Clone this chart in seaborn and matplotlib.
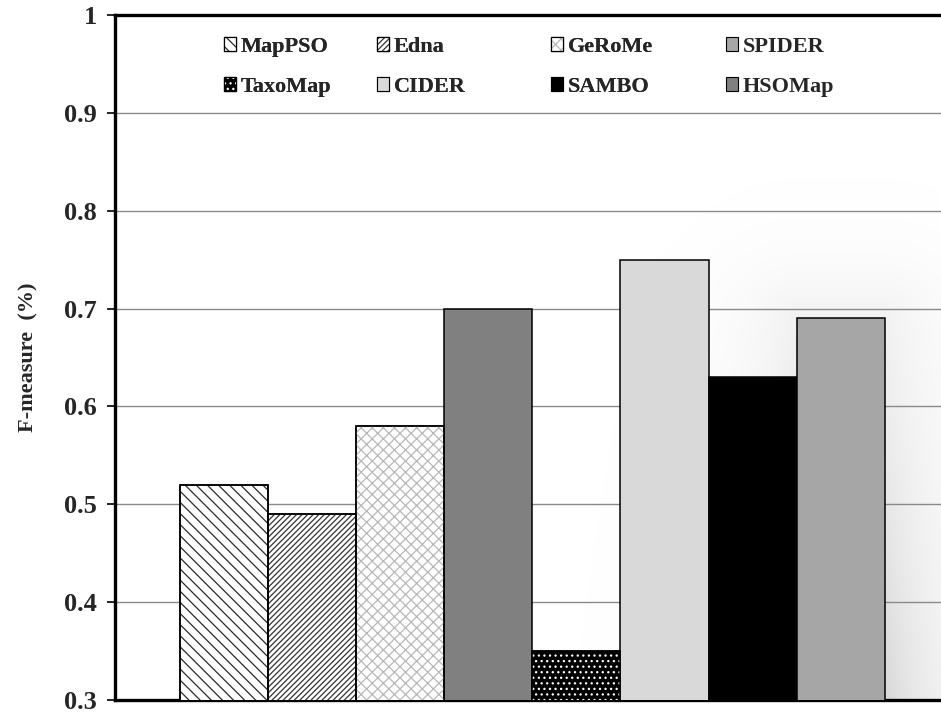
import numpy as np
import pandas as pd
import matplotlib
matplotlib.use("Agg")
import matplotlib.pyplot as plt
import seaborn as sns
from matplotlib.patches import Patch, Rectangle

# F-measure per matching system, in bar order
methods = ["MapPSO", "Edna", "GeRoMe", "HSOMap", "TaxoMap", "CIDER", "SAMBO", "SPIDER"]
fmeasure = [0.52, 0.49, 0.58, 0.70, 0.35, 0.75, 0.63, 0.69]

# legend layout: two rows of four entries
legend_rows = [["MapPSO", "Edna", "GeRoMe", "SPIDER"],
               ["TaxoMap", "CIDER", "SAMBO", "HSOMap"]]

yticks = [0.3, 0.4, 0.5, 0.6, 0.7, 0.8, 0.9, 1.0]
ytick_labels = ["0.3", "0.4", "0.5", "0.6", "0.7", "0.8", "0.9", "1"]

face = {"MapPSO": "white", "Edna": "white", "GeRoMe": "white", "HSOMap": "#808080",
        "TaxoMap": "black", "CIDER": "#d9d9d9", "SAMBO": "black", "SPIDER": "#a6a6a6"}
hatch = {"MapPSO": "\\\\\\", "Edna": "//////", "GeRoMe": "xxx", "TaxoMap": "..."}
hatch_col = {"MapPSO": "#2a2a2a", "Edna": "#333333", "GeRoMe": "#b8b8b8", "TaxoMap": "white"}

sns.set_theme(style="white")
plt.rcParams["font.family"] = ["Liberation Serif", "DejaVu Serif"]
plt.rcParams["font.weight"] = "bold"
plt.rcParams["hatch.linewidth"] = 0.9

df = pd.DataFrame({"group": ["all"] * len(methods), "method": methods, "F": fmeasure})

fig = plt.figure(figsize=(9.41, 7.12), dpi=100)
W, H = 941, 712
ax = fig.add_axes([115 / W, 1 - 700 / H, 1 - 115 / W, (700 - 15) / H])

sns.barplot(data=df, x="group", y="F", hue="method", hue_order=methods,
            palette=[face[m] for m in methods], saturation=1, width=0.8,
            edgecolor="black", linewidth=1.1, legend=False, ax=ax, zorder=3)

ax.set_xlim(-0.474, 0.464)
ax.set_ylim(0.3, 1.0)

# hatch overlays and crisp outlines on top of the filled bars
for m, p in zip(methods, ax.patches[:len(methods)]):
    p.set_zorder(3)
    if m in hatch:
        ax.add_patch(Rectangle((p.get_x(), p.get_y()), p.get_width(), p.get_height(),
                               fill=False, hatch=hatch[m], edgecolor=hatch_col[m],
                               linewidth=0, zorder=3.1))
        ax.add_patch(Rectangle((p.get_x(), p.get_y()), p.get_width(), p.get_height(),
                               fill=False, edgecolor="black", linewidth=1.1, zorder=3.2))

# soft shadow around the last bar
last = ax.patches[len(methods) - 1]
x0, x1 = ax.get_xlim()
y0, y1 = ax.get_ylim()
nx, ny = 826, 685
xs = np.linspace(x0, x1, nx)
ys = np.linspace(y0, y1, ny)
X, Y = np.meshgrid(xs, ys)
pxx = nx / (x1 - x0)
pxy = ny / (y1 - y0)
bl, br = last.get_x(), last.get_x() + last.get_width()
bt = last.get_y() + last.get_height()
dx = np.maximum(np.maximum(bl - X, X - br), 0) * pxx
dy = np.maximum(Y - bt, 0) * pxy
dist = np.hypot(dx, dy)
vert = np.clip((bt + 0.12 - Y) / (bt + 0.12 - y0), 0, 1)
alpha = 0.16 * np.exp(-dist / 60.0) * (0.25 + 0.75 * vert ** 1.3)
img = np.zeros((ny, nx, 4))
img[..., 3] = alpha
ax.imshow(img, extent=(x0, x1, y0, y1), origin="lower", aspect="auto",
          interpolation="bilinear", zorder=0.5)

# axes styling
ax.set_yticks(yticks)
ax.set_yticklabels(ytick_labels, fontsize=19, fontweight="bold")
ax.set_xticks([])
ax.set_xlabel("")
ax.grid(False)
for yv in yticks[1:-1]:
    ax.axhline(yv, color="#8a8a8a", linewidth=1.0, zorder=1)
for s in ["left", "bottom", "top"]:
    ax.spines[s].set_linewidth(2.4)
    ax.spines[s].set_color("black")
ax.spines["right"].set_visible(False)
ax.tick_params(axis="y", direction="out", length=6, width=1.2, color="black",
               pad=7, left=True)
ax.set_ylabel("F-measure  (%)", fontsize=16, fontweight="bold")
ax.yaxis.set_label_coords(-0.093, 0.5)


def handle_for(m):
    parts = [Patch(facecolor=face[m], edgecolor="black", linewidth=0.8)]
    if m in hatch:
        parts.append(Patch(fill=False, hatch=hatch[m], edgecolor=hatch_col[m], linewidth=0))
        parts.append(Patch(fill=False, edgecolor="black", linewidth=0.8))
    return tuple(parts)


# one legend per column so the columns sit where they should
col_x = [224, 377, 551, 726]
for c, xpx in enumerate(col_x):
    names = [legend_rows[0][c], legend_rows[1][c]]
    leg = fig.legend([handle_for(n) for n in names], names,
                     loc="upper left", bbox_to_anchor=(xpx / W, 1 - 37 / H),
                     frameon=False, prop={"weight": "bold", "size": 16},
                     handlelength=0.55, handleheight=0.55, handletextpad=0.2,
                     borderpad=0, borderaxespad=0, labelspacing=0.9)
    if c < len(col_x) - 1:
        fig.add_artist(leg)

fig.savefig("out.png", dpi=100, facecolor="white")
